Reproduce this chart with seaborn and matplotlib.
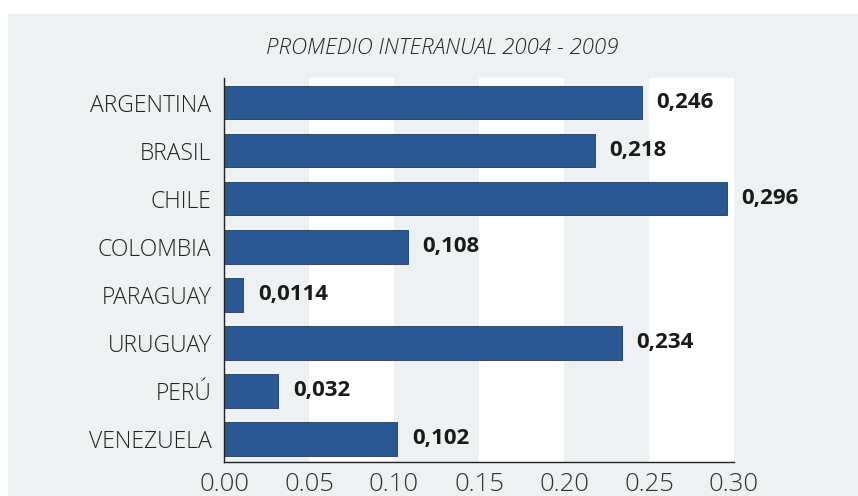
import matplotlib
matplotlib.use('Agg')
import matplotlib.pyplot as plt
import seaborn as sns
import pandas as pd
from matplotlib.patches import Rectangle

# ---- data ----
categories = ["ARGENTINA", "BRASIL", "CHILE", "COLOMBIA", "PARAGUAY", "URUGUAY", "PERÚ", "VENEZUELA"]
values = [0.246, 0.218, 0.296, 0.108, 0.0114, 0.234, 0.032, 0.102]
value_labels = ["0,246", "0,218", "0,296", "0,108", "0,0114", "0,234", "0,032", "0,102"]
tick_values = [0.00, 0.05, 0.10, 0.15, 0.20, 0.25, 0.30]
tick_labels = ["0.00", "0.05", "0.10", "0.15", "0.20", "0.25", "0.30"]
title = "PROMEDIO INTERANUAL 2004 - 2009"

df = pd.DataFrame({"pais": categories, "valor": values})

sns.set_theme(style="white")
plt.rcParams['font.family'] = ['Open Sans', 'DejaVu Sans']

bg = '#edf1f2'
bar_color = '#2a5893'

fig = plt.figure(figsize=(8.58, 4.96), dpi=100)
fig.patch.set_facecolor('white')
fig.patches.append(Rectangle((8 / 858, 0), 1, 1 - 14 / 496, transform=fig.transFigure,
                             facecolor=bg, edgecolor='none', zorder=-10))

ax = fig.add_axes([224 / 858, 34 / 496, 510 / 858, 384 / 496])
ax.set_facecolor('none')
for a, b in [(0.05, 0.10), (0.15, 0.20), (0.25, 0.30)]:
    ax.axvspan(a, b, color='white', lw=0, zorder=0)

sns.barplot(data=df, x="valor", y="pais", orient="h", color=bar_color, saturation=1,
            width=0.7, edgecolor='#1d3a63', linewidth=0.6, ax=ax, zorder=2)

for i, (v, lab) in enumerate(zip(values, value_labels)):
    ax.text(v + 0.0085, i, lab, va='center', ha='left', fontsize=16,
            fontweight='bold', color='#1a1a1a', zorder=3)

ax.set_xlim(0, 0.30)
ax.set_ylim(7.48, -0.51)
ax.set_xticks(tick_values)
ax.set_xticklabels(tick_labels)
ax.set_xlabel("")
ax.set_ylabel("")
for s in ['top', 'right']:
    ax.spines[s].set_visible(False)
for s in ['left', 'bottom']:
    ax.spines[s].set_visible(True)
    ax.spines[s].set_color('#222222')
    ax.spines[s].set_linewidth(1.0)
ax.tick_params(axis='x', direction='in', length=5, width=0.8, color='#555555',
               labelsize=18.5, labelcolor='#333333', pad=7)
ax.tick_params(axis='y', length=0, labelsize=16.5, labelcolor='#222222', pad=9)
for t in ax.get_xticklabels() + ax.get_yticklabels():
    t.set_fontweight('light')

fig.text(442 / 858, 1 - 48 / 496, title, ha='center', va='center', style='italic',
         fontsize=16, color='#222222', fontweight='light')

fig.savefig('out.png', dpi=100, facecolor=fig.get_facecolor())
